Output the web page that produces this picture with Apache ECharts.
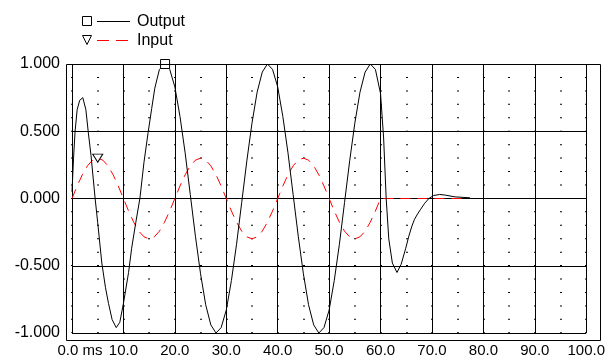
<!DOCTYPE html>
<html>
<head>
<meta charset="utf-8">
<script src="https://cdn.jsdelivr.net/npm/echarts@6/dist/echarts.min.js"></script>
<style>
html,body{margin:0;padding:0;background:#fff;}
#chart{width:608px;height:363px;}
</style>
</head>
<body>
<div id="chart"></div>
<script>
// ---- data ----
const inputTime = [0,1,2,3,4,5,6,7,8,9,10,11,12,13,14,15,16,17,18,19,20,
  21,22,23,24,25,26,27,28,29,30,31,32,33,34,35,36,37,38,39,40,
  41,42,43,44,45,46,47,48,49,50,51,52,53,54,55,56,57,58,59,60,76];
const inputValue = [0,0.093,0.176,0.243,0.285,0.300,0.285,0.243,0.176,0.093,0,
  -0.093,-0.176,-0.243,-0.285,-0.300,-0.285,-0.243,-0.176,-0.093,0,
  0.093,0.176,0.243,0.285,0.300,0.285,0.243,0.176,0.093,0,
  -0.093,-0.176,-0.243,-0.285,-0.300,-0.285,-0.243,-0.176,-0.093,0,
  0.093,0.176,0.243,0.285,0.300,0.285,0.243,0.176,0.093,0,
  -0.093,-0.176,-0.243,-0.285,-0.300,-0.285,-0.243,-0.176,-0.093,0,0];

const outputTime = [0,0.3,0.6,1.0,1.5,2.1,2.7,3.2,3.7,4.5,5.0,5.8,6.5,7.1,7.8,8.6,9.3,10.0,11.0,11.6,12.4,13.2,
  14.0,14.8,15.5,16.1,17.0,18.1,
  19,20,21,22,23,24,25,26,27,28,29,30,31,32,33,34,35,36,37,38,
  39,40,41,42,43,44,45,46,47,48,49,50,51,52,53,54,55,56,57,58,
  59,60,60.6,61.1,61.6,62.3,63.2,64.0,64.9,65.5,66.1,66.6,67.2,67.8,68.6,69.4,70.3,71.5,72.6,74.5,77.4];
const outputValue = [0.05,0.30,0.50,0.66,0.73,0.75,0.66,0.48,0.32,0.0,-0.18,-0.48,-0.66,-0.78,-0.90,-0.96,-0.92,-0.78,-0.55,-0.37,-0.18,0.0,
  0.27,0.49,0.67,0.82,0.96,1.0,
  0.96,0.83,0.61,0.34,0.03,-0.28,-0.56,-0.79,-0.94,-1.0,-0.96,-0.83,-0.61,-0.34,-0.03,0.28,0.56,0.79,0.94,1.0,
  0.96,0.83,0.61,0.34,0.03,-0.28,-0.56,-0.79,-0.94,-1.0,-0.96,-0.83,-0.61,-0.34,-0.03,0.28,0.56,0.79,0.94,1.0,
  0.96,0.78,0.45,0.0,-0.30,-0.48,-0.55,-0.49,-0.37,-0.28,-0.205,-0.155,-0.115,-0.08,-0.035,0.0,0.022,0.03,0.025,0.012,0.005];

const xTicks = [0,10,20,30,40,50,60,70,80,90,100];
const yTicks = [-1,-0.5,0,0.5,1];
const seriesNames = ['Output','Input'];
const outputMarkerTime = 18.1;   // square marker on Output
const inputMarkerTime = 5;       // triangle marker on Input

// ---- build ----
const FONT = 'Liberation Sans';
function pairs(t, v, markT, markStyle) {
  return t.map((x, i) => {
    const d = { value: [x, v[i]] };
    if (x === markT) Object.assign(d, markStyle);
    return d;
  });
}
const outputData = pairs(outputTime, outputValue, outputMarkerTime, {
  symbol: 'rect', symbolSize: 9,
  itemStyle: { color: '#fff', borderColor: '#000', borderWidth: 1 }
});
const inputData = pairs(inputTime, inputValue, inputMarkerTime, {
  symbol: 'triangle', symbolSize: [10, 8], symbolRotate: 180,
  itemStyle: { color: '#fff', borderColor: '#000', borderWidth: 1 }
});

const chart = echarts.init(document.getElementById('chart'), null, { renderer: 'canvas' });
chart.setOption({
  animation: false,
  backgroundColor: '#fff',
  textStyle: { fontFamily: FONT },
  grid: { left: 72, right: 20, top: 64, bottom: 30, containLabel: false },
  xAxis: [{
    type: 'value', min: xTicks[0], max: xTicks[xTicks.length - 1], interval: 10,
    axisLine: { show: false }, axisTick: { show: false },
    axisLabel: {
      margin: 10, color: '#000', fontSize: 15, fontFamily: FONT,
      formatter: v => v === 0 ? '{a|' + v.toFixed(1) + ' ms}' : v.toFixed(1),
      rich: { a: { fontSize: 15, fontFamily: FONT, color: '#000', padding: [0, 0, 0, 16] } }
    },
    splitLine: { show: true, lineStyle: { color: '#000', width: 1 } },
    z: 3
  }, {
    type: 'value', min: 0, max: 100, interval: 5, position: 'top',
    axisLine: { show: false }, axisTick: { show: false }, axisLabel: { show: false },
    splitLine: { show: true, lineStyle: { color: '#000', width: 2, type: [1, 12.44], dashOffset: 0.5 } },
    z: 2
  }],
  yAxis: {
    type: 'value', min: yTicks[0], max: yTicks[yTicks.length - 1], interval: 0.5,
    axisLine: { show: false }, axisTick: { show: false },
    axisLabel: { margin: 12, color: '#000', fontSize: 16, fontFamily: FONT, formatter: v => v.toFixed(3) },
    splitLine: { show: true, lineStyle: { color: '#000', width: 1 } }
  },
  graphic: [
    { type: 'rect', shape: { x: 66.5, y: 64.5, width: 534, height: 276 }, style: { fill: 'none', stroke: '#000', lineWidth: 1 }, z: 10, silent: true },
    { type: 'rect', shape: { x: 82.5, y: 16.5, width: 9, height: 9 }, style: { fill: '#fff', stroke: '#000', lineWidth: 1 }, z: 10 },
    { type: 'line', shape: { x1: 97, y1: 21.5, x2: 130, y2: 21.5 }, style: { stroke: '#000', lineWidth: 1 }, z: 10 },
    { type: 'text', x: 137, y: 22, style: { text: seriesNames[0], fill: '#000', font: '16px ' + FONT, textVerticalAlign: 'middle' }, z: 10 },
    { type: 'polygon', shape: { points: [[82.5, 35.5], [91.5, 35.5], [87, 44.5]] }, style: { fill: '#fff', stroke: '#000', lineWidth: 1 }, z: 10 },
    { type: 'line', shape: { x1: 97, y1: 40.5, x2: 130, y2: 40.5 }, style: { stroke: '#ff0000', lineWidth: 1, lineDash: [12, 7] }, z: 10 },
    { type: 'text', x: 137, y: 41, style: { text: seriesNames[1], fill: '#000', font: '16px ' + FONT, textVerticalAlign: 'middle' }, z: 10 }
  ],
  series: [{
    name: seriesNames[0], type: 'line', xAxisIndex: 0, data: outputData,
    symbol: 'none', showSymbol: true, clip: false, smooth: false,
    lineStyle: { color: '#000', width: 1 }, itemStyle: { color: '#000' }, z: 5
  }, {
    name: seriesNames[1], type: 'line', xAxisIndex: 0, data: inputData,
    symbol: 'none', showSymbol: true, clip: false, smooth: false,
    lineStyle: { color: '#ff0000', width: 1, type: [10, 7] }, itemStyle: { color: '#ff0000' }, z: 4
  }]
});
</script>
</body>
</html>
